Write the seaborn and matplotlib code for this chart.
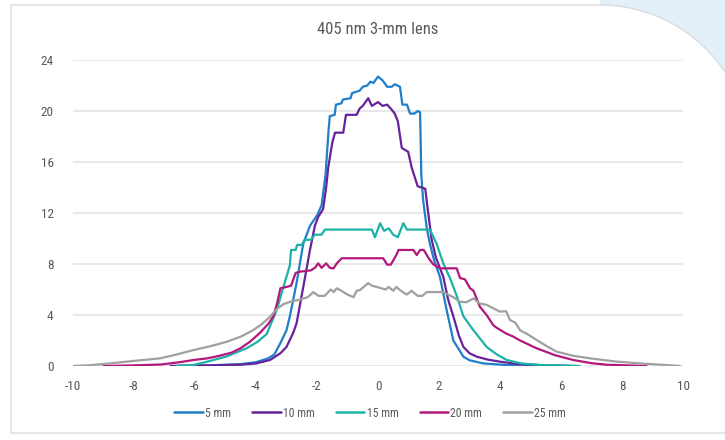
import numpy as np
import pandas as pd
import matplotlib
matplotlib.use("Agg")
import matplotlib.pyplot as plt
from matplotlib.patches import Polygon
import seaborn as sns

# beam profiles, distance from the lens
series_names = ["5 mm", "10 mm", "15 mm", "20 mm", "25 mm"]
colors = ["#1f7fc8", "#66229a", "#1cb2a6", "#b2177c", "#a0a0a0"]

x_5 = [-6.8, -5.5, -4.5, -4.0, -3.6, -3.4, -3.2, -3.0, -2.89, -2.67, -2.45, -2.23, -2.0, -1.85,
       -1.72, -1.62, -1.58, -1.42, -1.38, -1.2, -1.15, -0.9, -0.85, -0.6, -0.5, -0.35, -0.25, -0.15,
       0.0, 0.15, 0.3, 0.45, 0.55, 0.72, 0.8, 0.95, 1.05, 1.2, 1.3, 1.38, 1.42, 1.48, 1.6, 1.7,
       1.85, 2.03, 2.25, 2.47, 2.8, 3.0, 3.46, 4.2, 5.5, 6.6]
y_5 = [0, 0.05, 0.15, 0.3, 0.6, 0.9, 1.8, 2.8, 3.9, 6.5, 9.6, 11.0, 11.8, 12.6,
       15.0, 18.5, 19.6, 19.7, 20.5, 20.6, 20.9, 21.0, 21.4, 21.6, 21.9, 22.0, 22.3, 22.2,
       22.7, 22.4, 21.9, 21.9, 22.1, 21.9, 20.5, 20.5, 19.8, 19.8, 20.0, 19.9, 15.0, 13.0, 10.8, 9.6,
       8.2, 7.0, 4.4, 2.0, 0.73, 0.45, 0.2, 0.08, 0.02, 0]

x_10 = [-6.8, -5.5, -4.5, -4.0, -3.54, -3.2, -3.0, -2.78, -2.67, -2.45, -2.23, -2.07, -1.96, -1.8,
        -1.7, -1.63, -1.5, -1.41, -1.14, -1.05, -0.7, -0.6, -0.5, -0.32, -0.2, 0.0, 0.15, 0.3,
        0.45, 0.55, 0.65, 0.78, 0.99, 1.1, 1.3, 1.55, 1.62, 1.76, 1.9, 2.14, 2.3, 2.47, 2.65,
        2.8, 3.0, 3.24, 3.6, 4.0, 4.6, 5.4, 6.3]
y_10 = [0, 0.05, 0.1, 0.2, 0.47, 1.0, 1.5, 2.6, 3.35, 6.2, 9.1, 11.0, 11.7, 12.3,
        14.0, 15.6, 17.5, 18.3, 18.3, 19.7, 19.7, 20.2, 20.4, 21.0, 20.4, 20.7, 20.4, 20.5,
        20.1, 19.8, 19.2, 17.1, 16.8, 15.6, 14.1, 13.9, 12.5, 9.9, 8.5, 7.0, 5.2, 3.9, 2.4,
        1.5, 1.0, 0.73, 0.5, 0.34, 0.15, 0.06, 0]

x_15 = [-6.6, -6.05, -5.6, -4.96, -4.3, -3.95, -3.65, -3.32, -3.1, -2.89, -2.85, -2.7, -2.65,
        -2.5, -2.4, -2.2, -2.07, -1.85, -1.74, -0.2, -0.1, 0.07, 0.2, 0.35, 0.5, 0.65, 0.83,
        0.95, 1.7, 1.92, 2.14, 2.36, 2.58, 2.8, 3.13, 3.56, 3.9, 4.22, 4.7, 5.3, 6.6]
y_15 = [0, 0.08, 0.34, 0.75, 1.4, 1.9, 2.5, 4.4, 6.2, 7.9, 9.1, 9.1, 9.5,
        9.5, 9.9, 9.9, 10.3, 10.3, 10.7, 10.7, 10.1, 11.2, 10.6, 10.8, 10.3, 10.1, 11.2,
        10.7, 10.7, 9.6, 8.05, 6.9, 5.5, 3.9, 2.8, 1.5, 0.9, 0.47, 0.2, 0.08, 0]

x_20 = [-9.0, -8.0, -7.1, -6.5, -6.05, -5.6, -5.2, -4.8, -4.5, -4.2, -3.87, -3.6, -3.43, -3.3,
        -3.2, -3.0, -2.85, -2.7, -2.56, -2.2, -2.07, -1.96, -1.85, -1.7, -1.58, -1.46, -1.35,
        -1.19, 0.17, 0.3, 0.42, 0.6, 0.67, 1.16, 1.27, 1.38, 1.5, 1.65, 1.8, 2.03, 2.58, 2.69,
        2.85, 3.02, 3.13, 3.34, 3.56, 3.78, 3.89, 4.2, 4.44, 4.66, 5.2, 5.8, 6.4, 7.0, 7.5, 8.8]
y_20 = [0, 0.05, 0.12, 0.3, 0.47, 0.6, 0.8, 1.05, 1.4, 1.9, 2.6, 3.3, 3.9, 5.0,
        6.1, 6.2, 6.3, 7.3, 7.4, 7.5, 7.7, 8.05, 7.7, 8.05, 7.7, 7.65, 8.05,
        8.45, 8.45, 7.95, 7.95, 8.7, 9.1, 9.1, 8.7, 9.1, 9.1, 8.5, 8.0, 7.66, 7.66, 6.9,
        6.8, 6.1, 5.9, 4.65, 4.0, 3.2, 3.0, 2.55, 2.3, 2.0, 1.39, 0.85, 0.47, 0.22, 0.1, 0]

x_25 = [-10.0, -9.5, -8.8, -8.0, -7.15, -6.6, -6.05, -5.5, -4.96, -4.5, -4.1, -3.8, -3.54, -3.3,
        -3.1, -2.8, -2.56, -2.3, -2.12, -1.95, -1.75, -1.55, -1.45, -1.35, -1.2, -1.0, -0.8,
        -0.7, -0.59, -0.32, -0.2, -0.04, 0.1, 0.25, 0.35, 0.5, 0.6, 0.75, 0.94, 1.1, 1.3, 1.45,
        1.6, 2.14, 2.3, 2.47, 2.69, 2.9, 3.13, 3.34, 3.56, 3.8, 4.0, 4.2, 4.33, 4.5, 4.66, 4.9,
        5.2, 5.5, 5.85, 6.4, 6.95, 7.8, 8.6, 9.3, 9.9]
y_25 = [0, 0.05, 0.2, 0.4, 0.6, 0.9, 1.25, 1.55, 1.9, 2.3, 2.8, 3.3, 3.87, 4.5,
        4.85, 5.1, 5.2, 5.4, 5.8, 5.5, 5.5, 6.0, 5.8, 6.1, 5.9, 5.6, 5.4,
        5.9, 5.96, 6.5, 6.3, 6.2, 6.1, 6.0, 6.2, 5.9, 6.2, 5.9, 5.6, 5.9, 5.5, 5.5,
        5.8, 5.8, 5.6, 5.4, 5.04, 5.0, 5.3, 4.9, 4.8, 4.5, 4.26, 4.3, 3.6, 3.4, 2.8, 2.5,
        2.04, 1.6, 1.13, 0.8, 0.6, 0.35, 0.2, 0.1, 0]

x_ticks = [-10, -8, -6, -4, -2, 0, 2, 4, 6, 8, 10]
y_ticks = [0, 4, 8, 12, 16, 20, 24]

frames = []
for name, xs, ys in zip(series_names, [x_5, x_10, x_15, x_20, x_25], [y_5, y_10, y_15, y_20, y_25]):
    frames.append(pd.DataFrame({"pos": xs, "val": ys, "series": name}))
df = pd.concat(frames, ignore_index=True)

sns.set_style("white")
plt.rcParams["font.family"] = ["Roboto Condensed", "Roboto", "DejaVu Sans"]

fig = plt.figure(figsize=(7.25, 4.4), dpi=100, facecolor="white")

# card background: blue corner top right, thin border
W, H = 725.0, 440.0
ang = np.linspace(np.pi / 2, 0, 40)
arc = np.column_stack([600 + 150 * np.cos(ang), 155 - 150 * np.sin(ang)])
blue = np.vstack([[[600, 0]], arc, [[750, 155], [750, 0]]])
fig.patches.append(Polygon(np.column_stack([blue[:, 0] / W, 1 - blue[:, 1] / H]),
                           closed=True, transform=fig.transFigure, fc="#e4f0f8", ec="none", zorder=0))
card = np.vstack([[[11, 433], [11, 5]], arc, [[750, 155]]])
fig.lines.append(plt.Line2D(card[:, 0] / W, 1 - card[:, 1] / H, transform=fig.transFigure,
                            color="#d6dbe0", lw=1.0))
fig.lines.append(plt.Line2D([11 / W, 725 / W], [1 - 433 / H, 1 - 433 / H], transform=fig.transFigure,
                            color="#e3e6e8", lw=1.5))

ax = fig.add_axes([73 / W, 1 - 366 / H, 610 / W, 306 / H])
ax.set_facecolor("none")
sns.lineplot(data=df, x="pos", y="val", hue="series", hue_order=series_names,
             palette=colors, estimator=None, sort=False, lw=1.6, ax=ax, legend=False)

ax.set_xlim(-10, 10)
ax.set_ylim(0, 24)
ax.set_xticks(x_ticks)
ax.set_yticks(y_ticks)
ax.set_xticklabels([str(t) for t in x_ticks])
ax.set_yticklabels([str(t) for t in y_ticks])
ax.set_xlabel("")
ax.set_ylabel("")
ax.yaxis.grid(True, color="#e6e6e6", lw=1.3)
ax.set_axisbelow(True)
for s in ax.spines.values():
    s.set_visible(False)
ax.tick_params(length=0, labelsize=9.5, colors="#595959", pad=10)
ax.tick_params(axis="y", pad=14)

fig.text(378 / W, 1 - 29 / H, "405 nm 3-mm lens", ha="center", va="center",
         fontsize=12, color="#595959")

handles = [plt.Line2D([], [], color=c, lw=1.8) for c in colors]
fig.legend(handles, series_names, loc="center", bbox_to_anchor=(370 / W, 1 - 413 / H), ncol=5,
           frameon=False, fontsize=8.5, handlelength=2.4, handletextpad=0.2, columnspacing=1.8,
           labelcolor="#595959")

fig.savefig("out.png", dpi=100, facecolor=fig.get_facecolor())
